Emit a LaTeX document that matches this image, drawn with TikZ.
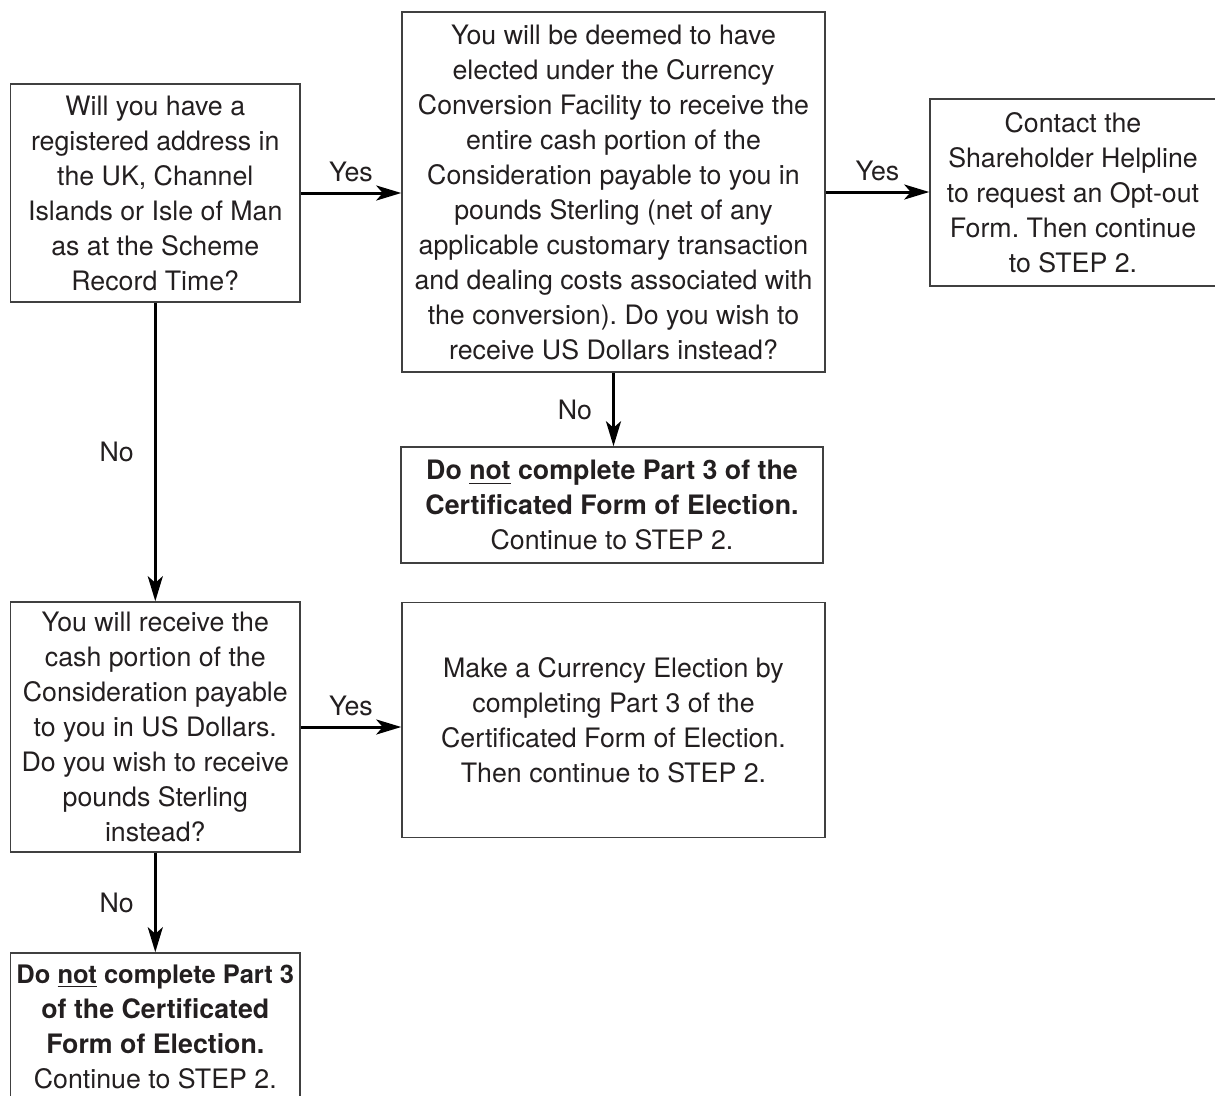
\documentclass[tikz,border=0pt]{standalone}
\usepackage{fontspec}
\setmainfont{TeX Gyre Heros}
\usetikzlibrary{arrows.meta}
\frenchspacing
\definecolor{inkgray}{HTML}{231F20}
\tikzstyle{flowbox}=[draw=black!75,line width=0.6pt,align=center,inner sep=0pt,text=inkgray,font=\fontsize{10.7}{14}\selectfont]
\tikzstyle{edge} = [draw,line width=1.2pt,-{Stealth[length=10pt,width=6pt,inset=2.6pt]}]
\tikzstyle{answer} = [inner sep=0pt,text=inkgray,font=\fontsize{10.7}{14}\selectfont]

\begin{document}
\begin{tikzpicture}[x=0.4pt, y=-0.4pt]

\useasboundingbox (0,0) rectangle (1215,1095);
\clip (0,0) rectangle (1215,1095);

% Questions and outcomes
\node[flowbox, minimum width=115.7pt, minimum height=87.2pt] (addr) at (155.3,193)
  {Will you have a\\ registered address in\\ the UK, Channel\\ Islands or Isle of Man\\ as at the Scheme\\ Record Time?};
\node[flowbox, minimum width=169.2pt, minimum height=144pt] (deemed) at (613.5,192)
  {You will be deemed to have\\ elected under the Currency\\ Conversion Facility to receive the\\ entire cash portion of the\\ Consideration payable to you in\\ pounds Sterling (net of any\\ applicable customary transaction\\ and dealing costs associated with\\ the conversion). Do you wish to\\ receive US Dollars instead?};
\node[flowbox, minimum width=114.4pt, minimum height=74.8pt] (optout) at (1073,192.5)
  {Contact the\\ Shareholder Helpline\\ to request an Opt-out\\ Form. Then continue\\ to STEP 2.};
\node[flowbox, minimum width=168.8pt, minimum height=46.4pt] (nopart) at (612,505)
  {\textbf{Do \underline{not} complete Part 3 of the}\\ \textbf{Certificated Form of Election.}\\ Continue to STEP 2.};
\node[flowbox, minimum width=115.7pt, minimum height=100pt] (usd) at (155.3,727)
  {You will receive the\\ cash portion of the\\ Consideration payable\\ to you in US Dollars.\\ Do you wish to receive\\ pounds Sterling\\ instead?};
\node[flowbox, minimum width=169.2pt, minimum height=94pt] (elect) at (613.5,720)
  {Make a Currency Election by\\ completing Part 3 of the\\ Certificated Form of Election.\\ Then continue to STEP 2.};
\node[flowbox, minimum width=115.7pt, minimum height=58.8pt] (nopartb) at (155.3,1026.5)
  {{\fontsize{10.2}{14}\selectfont\textbf{Do \underline{not} complete Part 3}}\\ \textbf{of the Certificated}\\ \textbf{Form of Election.}\\ Continue to STEP 2.};

% Connect boxes with arrows and answers
\foreach \source/ \dest in {addr/deemed, deemed/optout, usd/elect}
    \path[edge] (\source.east) -- node[answer, above=3.9pt] {Yes} (\source.east -| \dest.west);
\foreach \source/ \dest in {addr/usd, deemed/nopart, usd/nopartb}
    \path[edge] (\source.south) -- node[answer, left=8pt] {No} (\source.south |- \dest.north);

\end{tikzpicture}
\end{document}
